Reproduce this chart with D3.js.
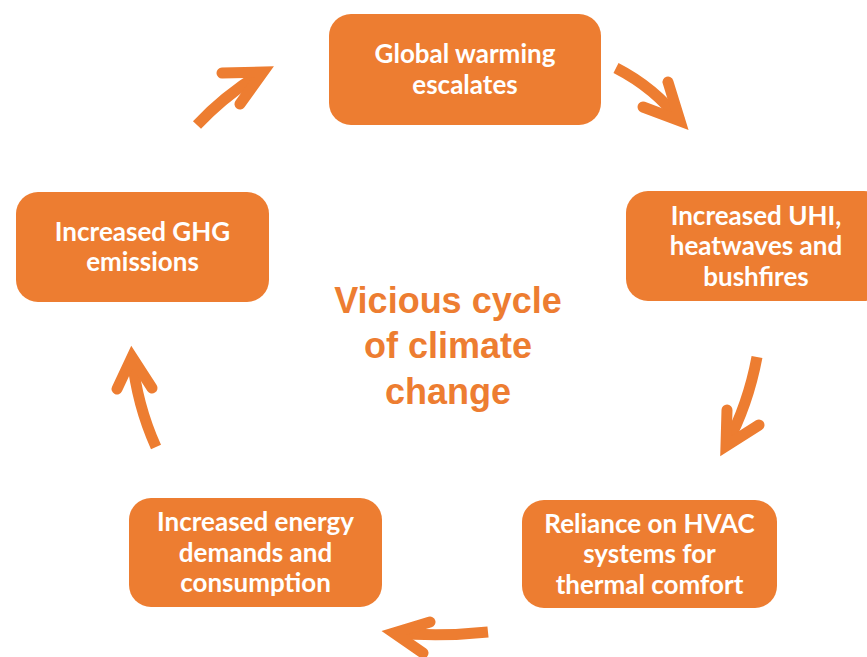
<!DOCTYPE html>
<html>
<head>
<meta charset="utf-8">
<script src="https://cdn.jsdelivr.net/npm/d3@7"></script>
<style>
  html, body { margin: 0; padding: 0; background: #fff; }
  svg { display: block; }
</style>
</head>
<body>
<div id="chart"></div>
<script>
// NOTE: content of the cycle
const stepLabels = [
  ['Global warming', 'escalates'],
  ['Increased UHI,', 'heatwaves and', 'bushfires'],
  ['Reliance on HVAC', 'systems for', 'thermal comfort'],
  ['Increased energy', 'demands and', 'consumption'],
  ['Increased GHG', 'emissions'],
];
const centerLabel = ['Vicious cycle', 'of climate', 'change'];

// NOTE: layout of the boxes (x, y, width, height) and arrows (tail, bend, tip, wings)
const boxLayout = [
  [329, 14, 272, 111],
  [626, 191, 260, 110],
  [522, 500, 255, 108],
  [129, 498, 253, 109],
  [16, 192, 253, 110],
];
const arrowLayout = [
  { tail: [616, 68], bend: [655, 88], tip: [680, 121], wings: [[643, 107], [668, 82]] },
  { tail: [757, 357], bend: [748, 405], tip: [726, 446], wings: [[727, 410], [759, 425]] },
  { tail: [488, 632], bend: [440, 637], tip: [394, 633], wings: [[430, 622], [423, 653]] },
  { tail: [156, 447], bend: [137, 405], tip: [132, 357], wings: [[117, 389], [152, 388]] },
  { tail: [197, 125], bend: [225, 95], tip: [263, 72], wings: [[222, 73], [240, 104]] },
];

const width = 867, height = 657;
const orange = '#ED7D31';
const boxFont = 'Lato, "Open Sans", sans-serif';
const centerFont = '"Liberation Sans", Arial, sans-serif';

const svg = d3.select('#chart')
  .append('svg')
  .attr('width', width)
  .attr('height', height);

const steps = stepLabels.map((lines, i) => {
  const [x, y, w, h] = boxLayout[i];
  return { lines, x, y, w, h };
});

const box = svg.selectAll('.step')
  .data(steps)
  .join('g')
  .attr('class', 'step')
  .attr('transform', d => `translate(${d.x},${d.y})`);

box.append('rect')
  .attr('width', d => d.w)
  .attr('height', d => d.h)
  .attr('rx', 22)
  .attr('fill', orange);

const lineHeight = 30.5;
box.append('text')
  .attr('fill', '#fff')
  .attr('font-family', boxFont)
  .attr('font-weight', 700)
  .attr('font-size', 26)
  .attr('text-anchor', 'middle')
  .selectAll('tspan')
  .data(d => d.lines.map((t, j) => ({ t, j, n: d.lines.length, w: d.w, h: d.h })))
  .join('tspan')
  .attr('x', d => d.w / 2)
  .attr('y', d => d.h / 2 + (d.j - (d.n - 1) / 2) * lineHeight)
  .attr('dy', '0.35em')
  .text(d => d.t);

// NOTE: arrows between the steps
const line = d3.line().curve(d3.curveLinear);
const arrow = svg.selectAll('.arrow')
  .data(arrowLayout)
  .join('g')
  .attr('class', 'arrow')
  .attr('fill', 'none')
  .attr('stroke', orange)
  .attr('stroke-width', 11)
  .attr('stroke-linecap', 'round')
  .attr('stroke-linejoin', 'miter');

arrow.append('path')
  .attr('stroke-linecap', 'butt')
  .attr('d', d => {
    const p = d3.path();
    p.moveTo(...d.tail);
    p.quadraticCurveTo(...d.bend, ...d.tip);
    return p.toString();
  });

arrow.append('path')
  .attr('d', d => line([d.wings[0], d.tip, d.wings[1]]));

svg.append('text')
  .attr('fill', orange)
  .attr('font-family', centerFont)
  .attr('font-weight', 700)
  .attr('font-size', 36)
  .attr('text-anchor', 'middle')
  .selectAll('tspan')
  .data(centerLabel)
  .join('tspan')
  .attr('x', 448)
  .attr('y', (d, i) => 300 + i * 45.5)
  .attr('dy', '0.35em')
  .text(d => d);
</script>
</body>
</html>
